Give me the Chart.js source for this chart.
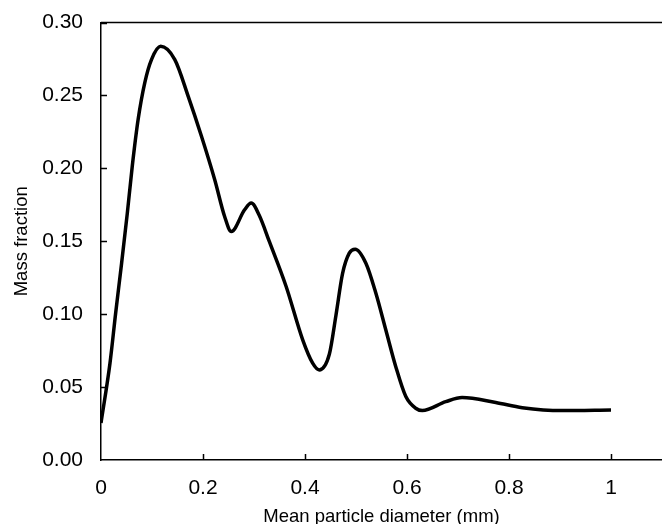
<!DOCTYPE html>
<html>
<head>
<meta charset="utf-8">
<script src="https://cdn.jsdelivr.net/npm/chart.js@4/dist/chart.umd.min.js"></script>
<style>
html,body{margin:0;padding:0;background:#fff;}
#wrap{width:662px;height:524px;position:relative;}
</style>
</head>
<body>
<div id="wrap"><canvas id="c" width="662" height="524"></canvas></div>
<script>
const diameters = [0, 0.0176, 0.0287, 0.0404, 0.0515, 0.0613, 0.073, 0.086, 0.099, 0.117, 0.1447, 0.171, 0.197, 0.223, 0.2424, 0.2555, 0.2815, 0.2946, 0.31, 0.33, 0.363, 0.3955, 0.415, 0.428, 0.4477, 0.4608, 0.4737, 0.4868, 0.4985, 0.5194, 0.539, 0.5585, 0.578, 0.5977, 0.617, 0.63, 0.676, 0.708, 0.774, 0.826, 0.904, 1.0];
const massFraction = [0.0254, 0.0664, 0.1007, 0.135, 0.169, 0.2015, 0.234, 0.259, 0.2746, 0.2837, 0.2746, 0.2494, 0.222, 0.1922, 0.167, 0.1567, 0.1716, 0.1762, 0.168, 0.1499, 0.119, 0.0824, 0.0664, 0.0618, 0.0725, 0.0995, 0.128, 0.1419, 0.1446, 0.135, 0.1144, 0.0892, 0.064, 0.0435, 0.0355, 0.0339, 0.040, 0.0428, 0.0394, 0.0359, 0.0339, 0.0343];
const xTickValues = [0, 0.2, 0.4, 0.6, 0.8, 1];
const yTickValues = [0, 0.05, 0.10, 0.15, 0.20, 0.25, 0.30];
const xTitle = 'Mean particle diameter (mm)';
const yTitle = 'Mass fraction';

const points = diameters.map((d, i) => ({x: d, y: massFraction[i]}));

const inwardTicks = {
  id: 'inwardTicks',
  afterDatasetsDraw(chart) {
    const ctx = chart.ctx;
    const a = chart.chartArea;
    const xs = chart.scales.x, ys = chart.scales.y;
    ctx.save();
    ctx.strokeStyle = '#000';
    ctx.lineWidth = 1.5;
    ctx.beginPath();
    ctx.moveTo(a.left, a.top);
    ctx.lineTo(a.right, a.top);
    xTickValues.forEach(v => {
      const px = Math.round(xs.getPixelForValue(v)) + 0.5;
      if (v === 0) return;
      ctx.moveTo(px, a.bottom);
      ctx.lineTo(px, a.bottom - 6);
    });
    yTickValues.forEach(v => {
      const py = Math.round(ys.getPixelForValue(v)) + 0.5;
      if (v === 0) return;
      ctx.moveTo(a.left, py);
      ctx.lineTo(a.left + 6, py);
    });
    ctx.stroke();
    ctx.restore();
  }
};

new Chart(document.getElementById('c'), {
  type: 'line',
  data: {
    datasets: [{
      data: points,
      borderColor: '#000',
      borderWidth: 3.5,
      pointRadius: 0,
      fill: false,
      cubicInterpolationMode: 'monotone'
    }]
  },
  options: {
    responsive: false,
    animation: false,
    layout: {padding: {top: 16, right: 0, left: 0, bottom: 0}},
    plugins: {legend: {display: false}, tooltip: {enabled: false}},
    scales: {
      x: {
        type: 'linear',
        min: 0, max: 1.1,
        afterBuildTicks(scale) { scale.ticks = xTickValues.map(v => ({value: v})); },
        afterFit(scale) { scale.height = 64; },
        grid: {display: false},
        border: {display: true, color: '#000', width: 1.5},
        ticks: {
          color: '#000',
          font: {family: 'Liberation Sans, Arial, sans-serif', size: 21},
          padding: 8,
          maxRotation: 0,
          autoSkip: false,
          callback: v => String(v)
        },
        title: {
          display: true, text: xTitle, color: '#000',
          font: {family: 'Liberation Sans, Arial, sans-serif', size: 18.5},
          padding: {top: 0, bottom: -4}
        }
      },
      y: {
        type: 'linear',
        min: 0, max: 0.30,
        afterBuildTicks(scale) { scale.ticks = yTickValues.map(v => ({value: v})); },
        afterFit(scale) { scale.width = 101; },
        grid: {display: false},
        border: {display: true, color: '#000', width: 1.5},
        ticks: {
          color: '#000',
          font: {family: 'Liberation Sans, Arial, sans-serif', size: 21},
          padding: 10,
          autoSkip: false,
          callback: v => Number(v).toFixed(2)
        },
        title: {
          display: true, text: yTitle, color: '#000',
          font: {family: 'Liberation Sans, Arial, sans-serif', size: 18.5},
          padding: {top: 11, bottom: 0}
        }
      }
    }
  },
  plugins: [inwardTicks]
});
</script>
</body>
</html>
